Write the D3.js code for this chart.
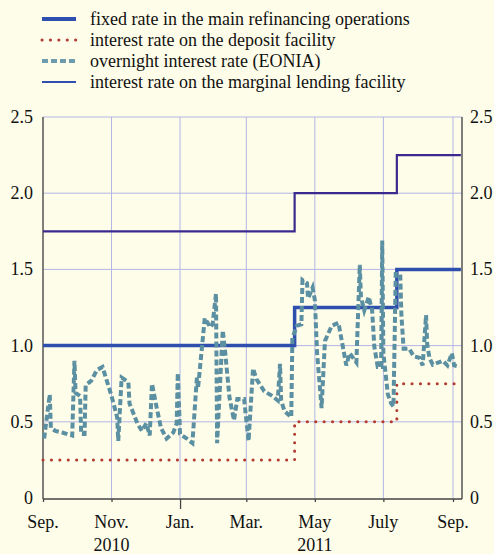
<!DOCTYPE html>
<html>
<head>
<meta charset="utf-8">
<script src="https://cdn.jsdelivr.net/npm/d3@7"></script>
<style>
  html, body { margin: 0; padding: 0; background: #fefde9; }
  svg { display: block; }
  text { font-family: "Liberation Serif", "Times New Roman", serif; fill: #111; }
</style>
</head>
<body>
<div id="chart"></div>
<script>
// policy rate changes (step dates)
var policyDates = ["2010-09-01", "2011-04-13", "2011-07-13", "2011-09-08"];
var mroRates = [1.0, 1.25, 1.5, 1.5];
var depositRates = [0.25, 0.5, 0.75, 0.75];
var lendingRates = [1.75, 2.0, 2.25, 2.25];

// EONIA
var eoniaDates = [
  "2010-09-02", "2010-09-07", "2010-09-08", "2010-09-12", "2010-09-18", "2010-09-27", "2010-09-29", "2010-09-30",
  "2010-10-04", "2010-10-05", "2010-10-08", "2010-10-09", "2010-10-14", "2010-10-19", "2010-10-24",
  "2010-11-01", "2010-11-06", "2010-11-07", "2010-11-10", "2010-11-16", "2010-11-17", "2010-11-24", "2010-11-28",
  "2010-12-02", "2010-12-05", "2010-12-07", "2010-12-11", "2010-12-15", "2010-12-20", "2010-12-26", "2010-12-29", "2010-12-30",
  "2011-01-01", "2011-01-07", "2011-01-12", "2011-01-16", "2011-01-17", "2011-01-23", "2011-01-28", "2011-01-30",
  "2011-02-02", "2011-02-03", "2011-02-08", "2011-02-10", "2011-02-14", "2011-02-18", "2011-02-21", "2011-02-27",
  "2011-03-03", "2011-03-07", "2011-03-10", "2011-03-17", "2011-03-24", "2011-03-29", "2011-03-31",
  "2011-04-01", "2011-04-04", "2011-04-10", "2011-04-11", "2011-04-15", "2011-04-19", "2011-04-20", "2011-04-24", "2011-04-25", "2011-04-29",
  "2011-05-01", "2011-05-03", "2011-05-07", "2011-05-10", "2011-05-16", "2011-05-22", "2011-05-26", "2011-05-29",
  "2011-06-01", "2011-06-07", "2011-06-10", "2011-06-11", "2011-06-14", "2011-06-18", "2011-06-21", "2011-06-23", "2011-06-26", "2011-06-29", "2011-06-30",
  "2011-07-01", "2011-07-05", "2011-07-08", "2011-07-10", "2011-07-12", "2011-07-16", "2011-07-17", "2011-07-19", "2011-07-24", "2011-07-28",
  "2011-08-02", "2011-08-05", "2011-08-08", "2011-08-09", "2011-08-11", "2011-08-14", "2011-08-23", "2011-08-27", "2011-08-31",
  "2011-09-02", "2011-09-07"
];
var eoniaValues = [
  0.39, 0.68, 0.46, 0.44, 0.43, 0.41, 0.90, 0.69,
  0.67, 0.42, 0.42, 0.74, 0.77, 0.84, 0.86,
  0.67, 0.53, 0.375, 0.79, 0.76, 0.62, 0.49, 0.44,
  0.49, 0.41, 0.75, 0.60, 0.46, 0.39, 0.43, 0.49, 0.82,
  0.42, 0.39, 0.36, 0.79, 0.72, 1.18, 1.12, 1.14,
  1.34, 0.36, 1.10, 0.97, 0.66, 0.51, 0.65, 0.65,
  0.375, 0.85, 0.78, 0.70, 0.67, 0.64, 0.88,
  0.64, 0.57, 0.53, 1.05, 1.13, 1.14, 1.43, 1.41, 1.31, 1.38,
  1.30, 0.95, 0.59, 1.03, 1.13, 1.15, 0.99, 0.87,
  0.95, 0.89, 1.53, 1.32, 1.23, 1.32, 1.23, 0.99, 0.86, 0.86, 1.69,
  0.95, 0.68, 0.62, 0.60, 1.47, 1.47, 1.21, 0.98, 0.98, 0.93,
  0.92, 0.87, 1.20, 1.01, 0.92, 0.875, 0.90, 0.87, 0.95,
  0.87, 0.86
];

var yTicks = [0, 0.5, 1.0, 1.5, 2.0, 2.5];
var xTickDates = ["2010-09-01", "2010-11-01", "2011-01-01", "2011-03-01", "2011-05-01", "2011-07-01", "2011-09-01"];
var xTickLabels = ["Sep.", "Nov.", "Jan.", "Mar.", "May", "July", "Sep."];
var yearLabels = ["2010", "2011"];
var yearDates = ["2010-11-01", "2011-05-01"];

var legendNames = [
  "fixed rate in the main refinancing operations",
  "interest rate on the deposit facility",
  "overnight interest rate (EONIA)",
  "interest rate on the marginal lending facility"
];

var parse = d3.timeParse("%Y-%m-%d");

var width = 494, height = 554;
var svg = d3.select("#chart").append("svg")
  .attr("width", width)
  .attr("height", height);

var plotLeft = 43, plotRight = 462, plotTop = 117, plotBottom = 498;

var x = d3.scaleTime()
  .domain([parse("2010-09-01"), parse("2011-09-09")])
  .range([plotLeft, plotRight]);

var y = d3.scaleLinear()
  .domain([0, 2.5])
  .range([plotBottom, plotTop]);

// grid lines
svg.append("g").selectAll("line")
  .data(yTicks.filter(d => d > 0))
  .enter().append("line")
  .attr("x1", plotLeft).attr("x2", plotRight)
  .attr("y1", d => y(d)).attr("y2", d => y(d))
  .attr("stroke", "#b3b6e6").attr("stroke-width", 1);

svg.append("g").selectAll("line")
  .data(xTickDates.slice(1))
  .enter().append("line")
  .attr("x1", d => x(parse(d))).attr("x2", d => x(parse(d)))
  .attr("y1", plotTop).attr("y2", plotBottom)
  .attr("stroke", "#b3b6e6").attr("stroke-width", 1);

// axis frame
svg.append("line").attr("x1", plotLeft).attr("x2", plotLeft).attr("y1", plotTop).attr("y2", plotBottom + 1)
  .attr("stroke", "#555").attr("stroke-width", 1.5);
svg.append("line").attr("x1", plotRight).attr("x2", plotRight).attr("y1", plotTop).attr("y2", plotBottom + 1)
  .attr("stroke", "#555").attr("stroke-width", 1.5);

// bottom axis with d3
var xAxis = d3.axisBottom(x)
  .tickValues(xTickDates.map(parse))
  .tickSize(3)
  .tickFormat("");
var gx = svg.append("g")
  .attr("transform", `translate(0, ${plotBottom + 1})`)
  .call(xAxis);
gx.select(".domain").attr("stroke", "#444").attr("stroke-width", 1.3)
  .attr("d", `M${plotLeft},0H${plotRight}`);
gx.selectAll(".tick line").attr("stroke", "#444").attr("stroke-width", 1.3)
  .attr("y2", d => d.getMonth() === 0 ? 10 : 3);

svg.append("g").selectAll("text")
  .data(xTickDates)
  .enter().append("text")
  .attr("x", d => x(parse(d)))
  .attr("y", 528)
  .attr("text-anchor", "middle")
  .attr("font-size", 18)
  .text((d, i) => xTickLabels[i]);

svg.append("g").selectAll("text")
  .data(yearDates)
  .enter().append("text")
  .attr("x", d => x(parse(d)))
  .attr("y", 551)
  .attr("text-anchor", "middle")
  .attr("font-size", 18)
  .text((d, i) => yearLabels[i]);

// y tick labels, both sides
var fmt = d => d === 0 ? "0" : d3.format(".1f")(d);
svg.append("g").selectAll("text")
  .data(yTicks)
  .enter().append("text")
  .attr("x", plotLeft - 10)
  .attr("y", d => y(d) + 6)
  .attr("text-anchor", "end")
  .attr("font-size", 18)
  .text(fmt);
svg.append("g").selectAll("text")
  .data(yTicks)
  .enter().append("text")
  .attr("x", plotRight + 8)
  .attr("y", d => y(d) + 6)
  .attr("text-anchor", "start")
  .attr("font-size", 18)
  .text(fmt);

// step lines
var step = d3.line()
  .x(d => x(d.date))
  .y(d => y(d.value))
  .curve(d3.curveStepAfter);

function steps(vals) {
  return policyDates.map((d, i) => ({ date: parse(d), value: vals[i] }));
}

var eonia = eoniaDates.map((d, i) => ({ date: parse(d), value: eoniaValues[i] }));

var plain = d3.line().x(d => x(d.date)).y(d => y(d.value));

svg.append("path")
  .datum(steps(lendingRates))
  .attr("d", step)
  .attr("fill", "none")
  .attr("stroke", "#3b2a8e")
  .attr("stroke-width", 2.2);

svg.append("path")
  .datum(steps(depositRates))
  .attr("d", step)
  .attr("fill", "none")
  .attr("stroke", "#b23a30")
  .attr("stroke-width", 3)
  .attr("stroke-linecap", "round")
  .attr("stroke-dasharray", "0.1 8.3");

svg.append("path")
  .datum(steps(mroRates))
  .attr("d", step)
  .attr("fill", "none")
  .attr("stroke", "#2f4fae")
  .attr("stroke-width", 3.5);

svg.append("path")
  .datum(eonia)
  .attr("d", plain)
  .attr("fill", "none")
  .attr("stroke", "#5b8fa2")
  .attr("stroke-width", 4)
  .attr("stroke-dasharray", "6 3");

// legend
var legendStyles = [
  { color: "#2f4fae", width: 4, dash: null, cap: "butt" },
  { color: "#b23a30", width: 3, dash: "0.1 8.3", cap: "round" },
  { color: "#6c9cae", width: 4, dash: "6 3", cap: "butt" },
  { color: "#2f4fae", width: 2.2, dash: null, cap: "butt" }
];

var legend = svg.append("g");
legend.selectAll("line")
  .data(legendNames)
  .enter().append("line")
  .attr("x1", 42).attr("x2", 76)
  .attr("y1", (d, i) => 19 + i * 21).attr("y2", (d, i) => 19 + i * 21)
  .attr("stroke", (d, i) => legendStyles[i].color)
  .attr("stroke-width", (d, i) => legendStyles[i].width)
  .attr("stroke-linecap", (d, i) => legendStyles[i].cap)
  .attr("stroke-dasharray", (d, i) => legendStyles[i].dash);

legend.selectAll("text")
  .data(legendNames)
  .enter().append("text")
  .attr("x", 90)
  .attr("y", (d, i) => 25 + i * 21)
  .attr("font-size", 18)
  .text(d => d);
</script>
</body>
</html>
